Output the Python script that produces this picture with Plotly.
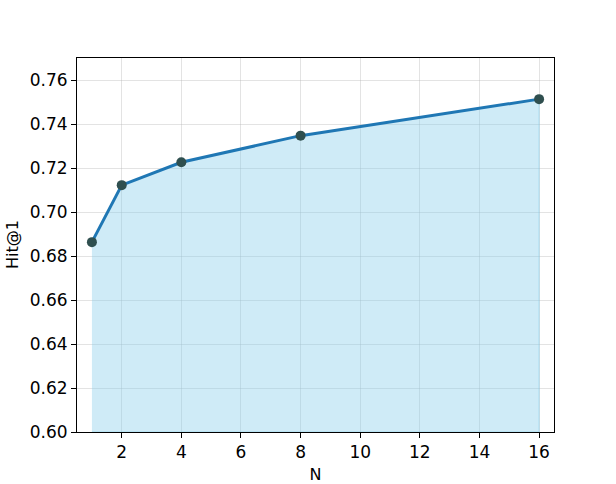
import plotly.graph_objects as go

# ── Data ───────────────────────────────────────────────────────────────────
n_values = [1, 2, 4, 8, 16]
hit_at_1 = [0.6863, 0.7122, 0.7226, 0.7347, 0.7513]
y_floor = 0.60

x_ticks = [2, 4, 6, 8, 10, 12, 14, 16]
y_ticks = [0.60, 0.62, 0.64, 0.66, 0.68, 0.70, 0.72, 0.74, 0.76]

FONT = "DejaVu Sans, sans-serif"
GRID = "rgba(176,176,176,0.35)"

fig = go.Figure()

# shaded area under the curve
fig.add_trace(go.Scatter(
    x=n_values + n_values[::-1],
    y=hit_at_1 + [y_floor] * len(n_values),
    fill="toself",
    fillcolor="rgba(135,206,235,0.4)",
    line=dict(color="rgba(135,206,235,0.6)", width=1),
    mode="lines",
    hoverinfo="skip",
    showlegend=False,
))

# main line + markers
fig.add_trace(go.Scatter(
    x=n_values,
    y=hit_at_1,
    mode="lines+markers",
    line=dict(color="#1f77b4", width=3),
    marker=dict(size=10, color="#2f4f4f"),
    showlegend=False,
))

axis_common = dict(
    showline=True, linecolor="black", linewidth=1, mirror=True,
    ticks="outside", ticklen=5, tickwidth=1, tickcolor="black",
    showgrid=True, gridcolor=GRID, gridwidth=1, zeroline=False,
    tickfont=dict(family=FONT, size=17, color="black"),
    automargin=False,
)

fig.update_layout(
    width=616, height=484,
    paper_bgcolor="white", plot_bgcolor="white",
    font=dict(family=FONT, size=17, color="black"),
    margin=dict(l=77, r=62, t=58, b=52),
    xaxis=dict(
        **axis_common,
        range=[0.5, 16.5], tickvals=x_ticks,
        title=dict(text="N", font=dict(family=FONT, size=16), standoff=9),
    ),
    yaxis=dict(
        **axis_common,
        range=[0.60, 0.77], tickvals=y_ticks, tickformat=".2f",
    ),
)

# y title as an annotation so it sits as far left as in the original
fig.add_annotation(
    text="Hit@1", xref="paper", yref="paper", x=0, y=0.5,
    xanchor="center", yanchor="middle", xshift=-65, textangle=-90,
    showarrow=False, font=dict(family=FONT, size=16, color="black"),
)

# drop the default 8px body margin so the figure fills the window exactly
fig.write_html(
    "out.html",
    config={"displayModeBar": False},
    post_script="document.body.style.margin='0';document.body.style.overflow='hidden';",
)
